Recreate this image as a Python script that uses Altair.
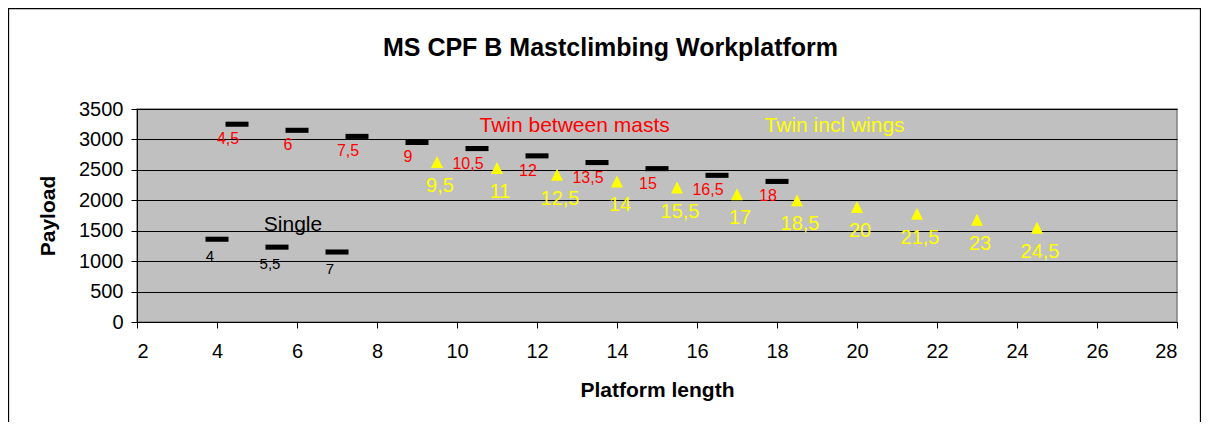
import altair as alt
import pandas as pd

# ---- data ----
single_x = [4, 5.5, 7]
single_y = [1360, 1230, 1150]
single_lbl = ["4", "5,5", "7"]

twin_x = [4.5, 6, 7.5, 9, 10.5, 12, 13.5, 15, 16.5, 18]
twin_y = [3250, 3150, 3050, 2950, 2850, 2730, 2620, 2520, 2410, 2310]
twin_lbl = ["4,5", "6", "7,5", "9", "10,5", "12", "13,5", "15", "16,5", "18"]

wings_x = [9.5, 11, 12.5, 14, 15.5, 17, 18.5, 20, 21.5, 23, 24.5]
wings_y = [2630, 2530, 2420, 2310, 2210, 2100, 2000, 1890, 1780, 1680, 1550]
wings_lbl = ["9,5", "11", "12,5", "14", "15,5", "17", "18,5", "20", "21,5", "23", "24,5"]

series_names = ["Single", "Twin between masts", "Twin incl wings"]
series_note_x = [5.9, 12.94, 19.44]
series_note_y = [1600, 3215, 3215]

x_ticks = list(range(2, 29, 2))
y_ticks = list(range(0, 3501, 500))
title_text = "MS CPF B Mastclimbing Workplatform"

FONT = "Liberation Sans"

single_df = pd.DataFrame({"x": single_x, "y": single_y, "lbl": single_lbl})
twin_df = pd.DataFrame({"x": twin_x, "y": twin_y, "lbl": twin_lbl})
wings_df = pd.DataFrame({"x": wings_x, "y": wings_y, "lbl": wings_lbl})

xs = alt.Scale(domain=[2, 28], nice=False, zero=False)
ys = alt.Scale(domain=[0, 3500], nice=False)

X = alt.X("x:Q", scale=xs, axis=alt.Axis(
    values=x_ticks, grid=False, title="Platform length", format="d",
    titleY=68, titleBaseline="middle", labelPadding=13, tickSize=6))
Y = alt.Y("y:Q", scale=ys, axis=alt.Axis(
    values=y_ticks, grid=True, gridColor="#000000", gridWidth=1, gridOpacity=1,
    format="d",
    title="Payload", titleX=-89, titleY=106.5, titleBaseline="middle",
    titleAngle=270, labelPadding=8, tickSize=6))

dash = "M-1,-0.22L1,-0.22L1,0.22L-1,0.22Z"
tri = "M0,-1L1,1L-1,1Z"

single_m = alt.Chart(single_df).mark_point(
    shape=dash, filled=True, size=529, color="#000000", opacity=1
).encode(x=X, y=Y)
twin_m = alt.Chart(twin_df).mark_point(
    shape=dash, filled=True, size=529, color="#000000", opacity=1
).encode(x=X, y=Y)
wings_m = alt.Chart(wings_df).mark_point(
    shape=tri, filled=True, size=144, color="#FFFF00", opacity=1
).encode(x=X, y=Y)

single_t = alt.Chart(single_df).mark_text(
    font=FONT, fontSize=15, color="#000000", dx=-7, dy=17, baseline="middle"
).encode(x=X, y=Y, text="lbl:N")
twin_t = alt.Chart(twin_df).mark_text(
    font=FONT, fontSize=16, color="#FF0000", dx=-9, dy=15, baseline="middle"
).encode(x=X, y=Y, text="lbl:N")
wings_t = alt.Chart(wings_df).mark_text(
    font=FONT, fontSize=20, color="#FFFF00", dx=3, dy=24, baseline="middle"
).encode(x=X, y=Y, text="lbl:N")

notes_df = pd.DataFrame({"x": series_note_x, "y": series_note_y, "t": series_names})
notes = alt.Chart(notes_df).mark_text(
    font=FONT, fontSize=21, baseline="middle"
).encode(
    x=X, y=Y, text="t:N",
    color=alt.Color("t:N", scale=alt.Scale(domain=series_names,
                                          range=["#000000", "#FF0000", "#FFFF00"]),
                    legend=None),
)

title_df = pd.DataFrame({"t": [title_text]})
title = alt.Chart(title_df).mark_text(
    font=FONT, fontSize=25, fontWeight="bold", color="#000000",
    baseline="middle", align="center"
).encode(x=alt.value(473.5), y=alt.value(-61.5), text="t:N")

border_df = pd.DataFrame({"a": [0]})
border = alt.Chart(border_df).mark_rect(
    fill=None, fillOpacity=0, stroke="#000000", strokeWidth=1.3
).encode(x=alt.value(-128.5), x2=alt.value(1063.5),
         y=alt.value(-100.5), y2=alt.value(600))

chart = alt.layer(
    border, single_m, twin_m, wings_m, single_t, twin_t, wings_t, notes, title
).properties(
    width=1040, height=213,
    padding={"left": 129, "top": 101, "right": 24, "bottom": 100},
    autosize=alt.AutoSizeParams(type="none"),
    background="#FFFFFF",
).configure_view(
    fill="#C0C0C0", stroke="#808080", strokeWidth=1.5
).configure_axis(
    labelFont=FONT, labelFontSize=20, labelColor="#000000",
    titleFont=FONT, titleFontSize=21, titleFontWeight="bold", titleColor="#000000",
    domainColor="#000000", domainWidth=1, tickColor="#000000", tickWidth=1,
)

chart.save("out.html", embed_options={"renderer": "svg", "actions": False})
